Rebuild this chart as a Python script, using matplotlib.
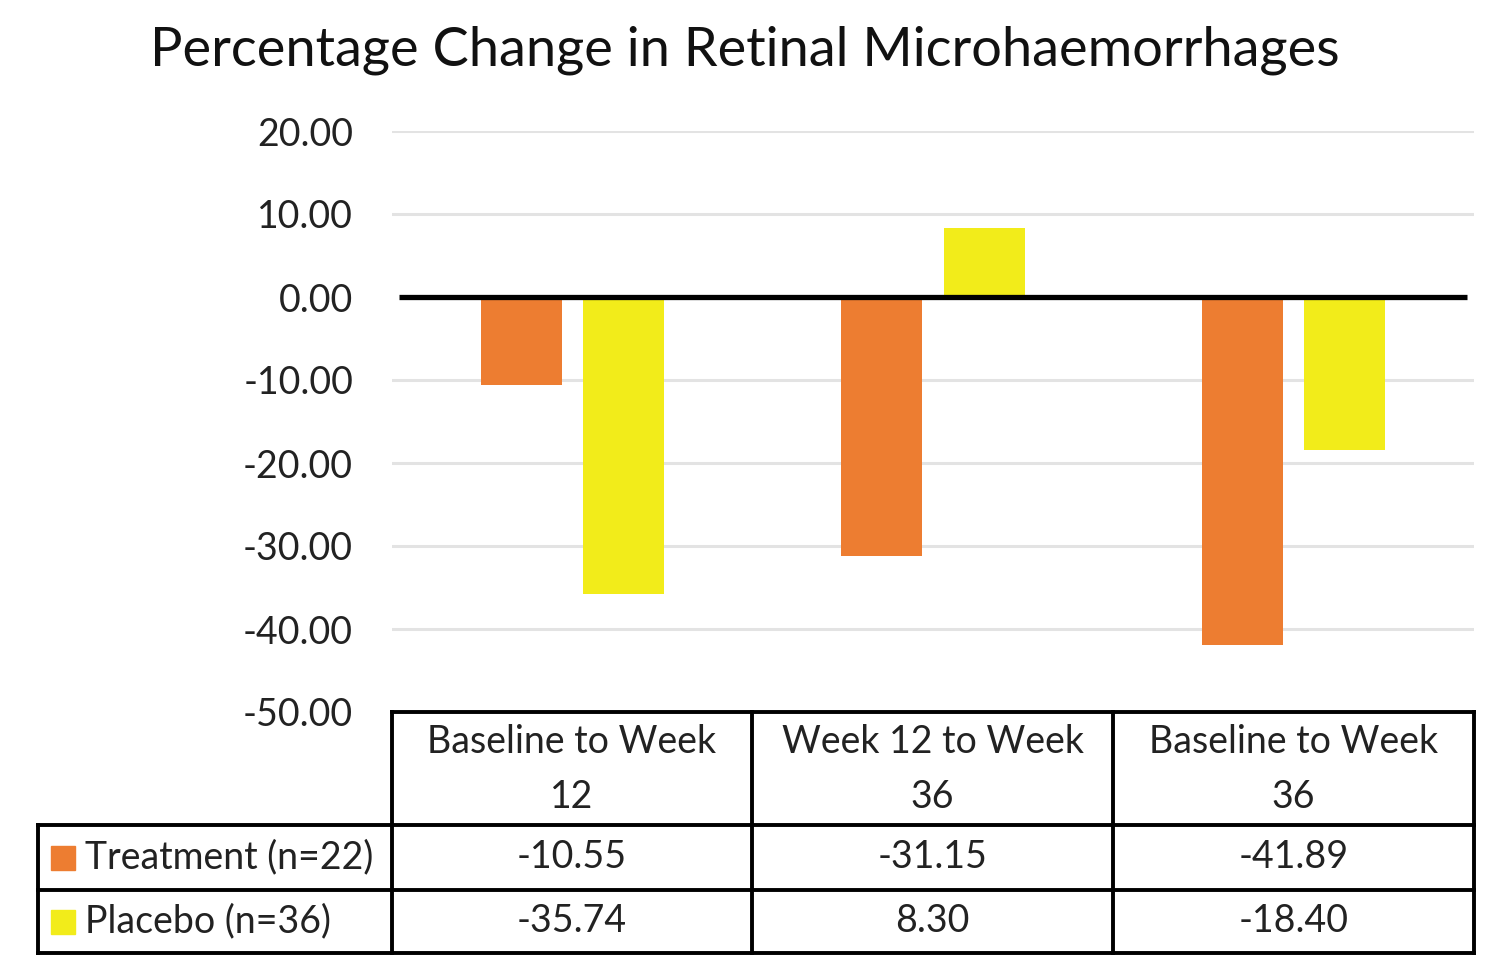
import matplotlib
matplotlib.use("Agg")
import matplotlib.pyplot as plt
from matplotlib.lines import Line2D
from matplotlib.patches import Rectangle

categories = ["Baseline to Week\n12", "Week 12 to Week\n36", "Baseline to Week\n36"]
series_names = ["Treatment (n=22)", "Placebo (n=36)"]
treatment = [-10.55, -31.15, -41.89]
placebo = [-35.74, 8.30, -18.40]
yticks = [20, 10, 0, -10, -20, -30, -40, -50]
colors = ["#ED7D31", "#F2EC1A"]
title = "Percentage Change in Retinal Microhaemorrhages"

W, H = 1500, 959
plt.rcParams['font.family'] = ['Lato', 'DejaVu Sans']
fig = plt.figure(figsize=(W / 100, H / 100), dpi=100)

def fx(px):
    return px / W

def fy(py):
    return 1 - py / H

FS = 27

ax_l, ax_r, ax_t, ax_b = 392, 1474, 131, 712
ax = fig.add_axes([fx(ax_l), fy(ax_b), fx(ax_r - ax_l), (ax_b - ax_t) / H])
ax.set_xlim(-0.5, len(categories) - 0.5)
ax.set_ylim(-50, 20)
for s in ax.spines.values():
    s.set_visible(False)
ax.set_xticks([])
ax.set_yticks(yticks)
ax.set_yticklabels([f"{v:.2f}" for v in yticks], fontsize=FS, color="#222222")
ax.tick_params(axis='y', length=0, pad=28)
for v in yticks:
    if v != 0 and v != -50:
        ax.axhline(v, color="#E3E3E3", lw=2.2, zorder=0)

bw = 0.225
off = 0.142
xs = range(len(categories))
for vals, c, sgn in [(treatment, colors[0], -1), (placebo, colors[1], 1)]:
    ax.bar([x + sgn * off for x in xs], vals, width=bw, color=c, zorder=2)
ax.plot([-0.48, 2.48], [0, 0], color="black", lw=3.8, zorder=3, solid_capstyle='butt')

fig.text(fx(745), fy(50), title, fontsize=39, ha="center", va="center", color="#111111")

# table
lw = 2.8
col_x = [392, 752, 1113, 1474]
row_y = [712, 825, 890, 953]
left = 38

def hline(x0, x1, y):
    fig.add_artist(Line2D([fx(x0), fx(x1)], [fy(y), fy(y)], color="black", lw=lw,
                          transform=fig.transFigure, solid_capstyle='projecting'))

def vline(x, y0, y1):
    fig.add_artist(Line2D([fx(x), fx(x)], [fy(y0), fy(y1)], color="black", lw=lw,
                          transform=fig.transFigure, solid_capstyle='projecting'))

hline(col_x[0], col_x[-1], row_y[0])
hline(left, col_x[-1], row_y[1])
hline(left, col_x[-1], row_y[2])
hline(left, col_x[-1], row_y[3])
for x in col_x:
    vline(x, row_y[0], row_y[3])
vline(left, row_y[1], row_y[3])

for i, cat in enumerate(categories):
    cx = (col_x[i] + col_x[i + 1]) / 2
    fig.text(fx(cx), fy((row_y[0] + row_y[1]) / 2 + 1), cat, fontsize=FS, ha="center",
             va="center", linespacing=1.65, color="#222222")
for r, vals in enumerate([treatment, placebo]):
    cy = (row_y[r + 1] + row_y[r + 2]) / 2
    for i, v in enumerate(vals):
        cx = (col_x[i] + col_x[i + 1]) / 2
        fig.text(fx(cx), fy(cy), f"{v:.2f}", fontsize=FS, ha="center", va="center", color="#222222")
    fig.add_artist(Rectangle((fx(51), fy(cy + 12)), fx(24), 24 / H, color=colors[r],
                             transform=fig.transFigure))
    fig.text(fx(85), fy(cy), series_names[r], fontsize=FS, ha="left", va="center", color="#222222")

fig.savefig("out.png", dpi=100, facecolor="white")
